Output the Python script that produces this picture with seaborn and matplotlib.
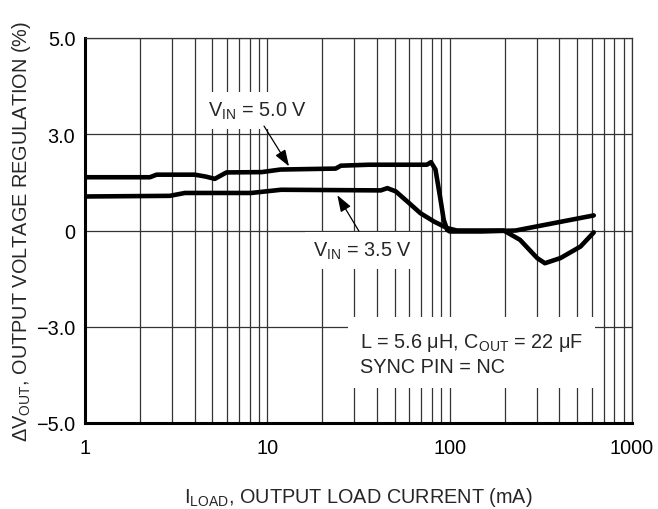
"""Output voltage regulation vs. load current (two input voltages)."""

import matplotlib
matplotlib.use("Agg")

import matplotlib.pyplot as plt
import numpy as np
import pandas as pd
import seaborn as sns
from matplotlib.ticker import FixedLocator, FixedFormatter, LogLocator, NullFormatter, NullLocator

# values (load in mA, regulation in %)
load_5v0 = [1, 2.27, 2.47, 4.0, 4.6, 5.15, 5.97, 9.3, 11.8, 23.7, 25.3, 36, 75, 79,
            83.6, 89.1, 92.8, 96.9, 100, 150, 230, 617]
reg_5v0 = [1.66, 1.66, 1.74, 1.74, 1.68, 1.61, 1.81, 1.82, 1.90, 1.93, 2.02, 2.05, 2.05, 2.13,
           1.90, 0.96, 0.33, 0.02, -0.03, -0.03, 0.0, 0.47]

load_3v5 = [1, 2.92, 3.53, 8.17, 11.9, 41.9, 45.5, 50.6, 58.4, 69.1, 82, 96.9, 109.5,
            198, 243, 302, 333, 405, 522, 617]
reg_3v5 = [1.06, 1.08, 1.17, 1.17, 1.27, 1.25, 1.32, 1.22, 0.91, 0.54, 0.28, 0.075, 0.0,
           0.0, -0.29, -0.86, -1.02, -0.86, -0.5, -0.06]

series_names = ["5.0 V", "3.5 V"]

x_ticks = [1, 10, 100, 1000]
x_tick_labels = ["1", "10", "100", "1000"]
y_ticks = [-5.0, -3.0, 0.0, 3.0, 5.0]
y_tick_labels = ["\u22125.0", "\u22123.0", "0", "3.0", "5.0"]

# 字体
sns.set_style("white")
plt.rcParams["font.family"] = ["Liberation Sans", "DejaVu Sans"]
plt.rcParams["mathtext.fontset"] = "custom"
plt.rcParams["mathtext.rm"] = "Liberation Sans"
plt.rcParams["mathtext.it"] = "Liberation Sans"
plt.rcParams["mathtext.bf"] = "Liberation Sans:bold"
plt.rcParams["mathtext.default"] = "regular"

GRID = "0.2"
FS = 14.3


# gridlines are evenly spaced even though the labels (5, 3, 0, -3, -5) are not
def y_forward(v):
    v = np.asarray(v, dtype=float)
    a = np.abs(v)
    return np.where(a <= 3, v / 3, np.sign(v) * (1 + (a - 3) / 2))


def y_inverse(p):
    p = np.asarray(p, dtype=float)
    a = np.abs(p)
    return np.where(a <= 1, 3 * p, np.sign(p) * (3 + 2 * (a - 1)))


def main() -> None:
    df = pd.concat([
        pd.DataFrame({"load": load_5v0, "reg": reg_5v0, "vin": series_names[0]}),
        pd.DataFrame({"load": load_3v5, "reg": reg_3v5, "vin": series_names[1]}),
    ], ignore_index=True)

    fig = plt.figure(figsize=(6.58, 5.10), dpi=100)
    ax = fig.add_axes([85 / 658, 1 - 424 / 510, (632 - 85) / 658, (424 - 39) / 510])

    ax.set_xscale("log")
    ax.set_yscale("function", functions=(y_forward, y_inverse))

    sns.lineplot(
        data=df, x="load", y="reg", hue="vin",
        palette={n: "black" for n in series_names},
        estimator=None, sort=False, legend=False,
        linewidth=3.3, solid_joinstyle="round", solid_capstyle="round",
        ax=ax, zorder=3,
    )

    ax.set_xlim(1, 1000)
    ax.set_ylim(-5, 5)

    # ticks + grid
    ax.xaxis.set_major_locator(FixedLocator(x_ticks))
    ax.xaxis.set_major_formatter(FixedFormatter(x_tick_labels))
    ax.xaxis.set_minor_locator(LogLocator(base=10, subs=range(2, 10)))
    ax.xaxis.set_minor_formatter(NullFormatter())
    ax.yaxis.set_major_locator(FixedLocator(y_ticks))
    ax.yaxis.set_major_formatter(FixedFormatter(y_tick_labels))
    ax.yaxis.set_minor_locator(NullLocator())
    ax.tick_params(which="both", length=0, labelsize=FS, colors="black")
    ax.tick_params(axis="x", pad=11)
    ax.tick_params(axis="y", pad=7)
    ax.grid(True, which="both", axis="x", color=GRID, linewidth=0.9)
    ax.grid(True, which="major", axis="y", color=GRID, linewidth=0.9)

    for side in ["left", "bottom"]:
        ax.spines[side].set_linewidth(2.2)
        ax.spines[side].set_color("black")
    for side in ["top", "right"]:
        ax.spines[side].set_linewidth(0.9)
        ax.spines[side].set_color(GRID)

    ax.set_xlabel("I$_{LOAD}$, OUTPUT LOAD CURRENT (mA)", fontsize=FS, labelpad=20)
    ax.set_ylabel("\u0394V$_{OUT}$, OUTPUT VOLTAGE REGULATION (%)", fontsize=FS, labelpad=2)

    # labels for the curves
    white = dict(boxstyle="square", facecolor="white", edgecolor="none", pad=0.4)
    ax.text(4.7, 3.38, "V$_{IN}$ = 5.0 V", fontsize=FS, ha="left", va="baseline",
            bbox=white, zorder=4)
    ax.text(17.9, -0.79, "V$_{IN}$ = 3.5 V", fontsize=FS, ha="left", va="baseline",
            bbox=white, zorder=4)
    ax.text(32.2, -3.94, "L = 5.6 \u03bcH, C$_{OUT}$ = 22 \u03bcF\nSYNC PIN = NC",
            fontsize=FS, ha="left", va="baseline", linespacing=1.25,
            bbox=dict(boxstyle="square", facecolor="white", edgecolor="none", pad=0.6),
            zorder=4)

    arrow = dict(arrowstyle="-|>,head_length=1.0,head_width=0.35", color="black",
                 linewidth=0.9, shrinkA=0, shrinkB=0)
    ax.annotate("", xy=(13.15, 2.0), xytext=(9.59, 3.17), arrowprops=arrow, zorder=5)
    ax.annotate("", xy=(24.2, 1.1), xytext=(31.8, -0.02), arrowprops=arrow, zorder=5)

    fig.savefig("out.png", dpi=100)
    plt.close(fig)


if __name__ == "__main__":
    main()
